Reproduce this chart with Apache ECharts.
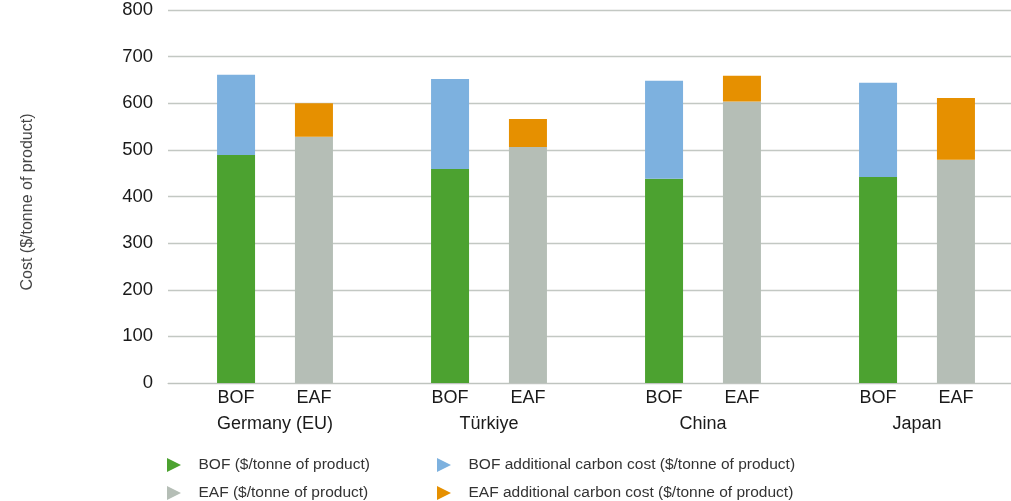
<!DOCTYPE html>
<html>
<head>
<meta charset="utf-8">
<script src="https://cdn.jsdelivr.net/npm/echarts@6/dist/echarts.min.js"></script>
<style>
  html, body { margin: 0; padding: 0; background: #fff; }
  #chart { width: 1011px; height: 501px; }
</style>
</head>
<body>
<div id="chart"></div>
<script>
// Steel production cost by route, with added carbon cost ($/tonne of product)
const countries = ['Germany (EU)', 'Türkiye', 'China', 'Japan'];
const routeLabels = ['BOF', 'EAF'];
const bofCost = [489, 459, 438, 442];
const bofCarbon = [172, 193, 210, 202];
const eafCost = [528, 506, 604, 479];
const eafCarbon = [72, 60, 55, 132];
const yTicks = { min: 0, max: 800, interval: 100 };

const seriesNames = [
  'BOF ($/tonne of product)',
  'BOF additional carbon cost ($/tonne of product)',
  'EAF ($/tonne of product)',
  'EAF additional carbon cost ($/tonne of product)'
];
const colors = ['#4ca230', '#7db1df', '#b5beb6', '#e69000'];

const FONT = '"Liberation Sans", Arial, Helvetica, sans-serif';
const triangle = 'path://M0,0L14,7L0,14Z';

const chart = echarts.init(document.getElementById('chart'));

function barSeries(i, stack, data) {
  return {
    name: seriesNames[i],
    type: 'bar',
    stack: stack,
    data: data,
    barWidth: 38,
    barGap: '105%',
    itemStyle: { color: colors[i] },
    emphasis: { disabled: true }
  };
}

// one legend per entry, laid out as a 2 x 2 block under the axis
function legendItem(i, left, top) {
  return {
    left: left,
    top: top,
    padding: 0,
    data: [seriesNames[i]],
    icon: triangle,
    itemWidth: 15,
    itemHeight: 14,
    selectedMode: false,
    textStyle: { fontFamily: FONT, fontSize: 15.5, color: '#333', padding: [0, 0, 0, 12] }
  };
}

chart.setOption({
  animation: false,
  backgroundColor: '#ffffff',
  textStyle: { fontFamily: FONT },
  // the plot runs past the right edge of the canvas; gridlines are cut off there
  grid: { left: 168, top: 10, width: 856, bottom: 118, containLabel: false, outerBoundsMode: 'none' },
  legend: [
    legendItem(0, 167, 457),
    legendItem(1, 437, 457),
    legendItem(2, 167, 485),
    legendItem(3, 437, 485)
  ],
  xAxis: {
    type: 'category',
    data: countries,
    axisLine: { show: true, lineStyle: { color: '#bfc4bf', width: 1 } },
    axisTick: { show: false },
    axisLabel: {
      margin: 2,
      interval: 0,
      formatter: function (v) {
        return '{r|' + routeLabels[0] + '}{r|' + routeLabels[1] + '}\n{c|' + v + '}';
      },
      rich: {
        r: { width: 78, align: 'center', fontSize: 18, lineHeight: 26, color: '#1a1a1a', fontFamily: FONT },
        c: { fontSize: 18, lineHeight: 26, color: '#1a1a1a', fontFamily: FONT }
      }
    }
  },
  yAxis: {
    type: 'value',
    min: yTicks.min,
    max: yTicks.max,
    interval: yTicks.interval,
    name: 'Cost ($/tonne of product)',
    nameLocation: 'middle',
    nameGap: 132,
    nameRotate: 90,
    nameTextStyle: { fontFamily: FONT, fontSize: 16, color: '#444', padding: [0, 11, 0, 0] },
    axisLine: { show: false },
    axisTick: { show: false },
    axisLabel: { margin: 15, fontSize: 18.5, color: '#1a1a1a', fontFamily: FONT },
    splitLine: { lineStyle: { color: '#c3c8c3', width: 1.3 } }
  },
  series: [
    barSeries(0, 'bof', bofCost),
    barSeries(1, 'bof', bofCarbon),
    barSeries(2, 'eaf', eafCost),
    barSeries(3, 'eaf', eafCarbon)
  ]
});
</script>
</body>
</html>
